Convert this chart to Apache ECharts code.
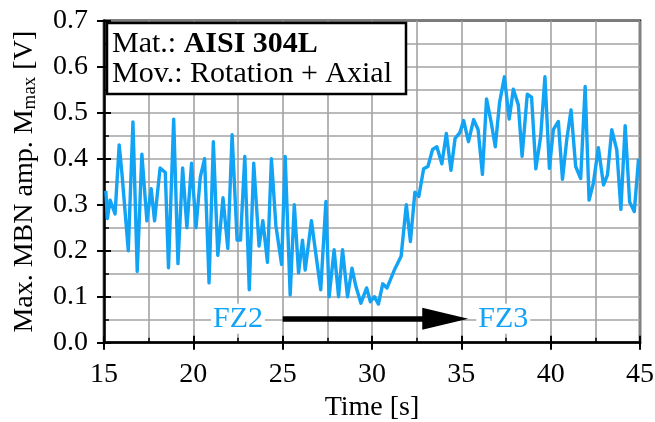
<!DOCTYPE html>
<html>
<head>
<meta charset="utf-8">
<script src="https://cdn.jsdelivr.net/npm/echarts@6/dist/echarts.min.js"></script>
<style>
  html, body { margin: 0; padding: 0; background: #ffffff; }
  #chart { width: 655px; height: 422px; }
</style>
</head>
<body>
<div id="chart"></div>
<script>
// MBN amplitude over time
const times = [
  15.10, 15.19, 15.34, 15.62, 15.85, 16.00, 16.36, 16.62, 16.86, 17.12,
  17.40, 17.64, 17.83, 18.14, 18.43, 18.61, 18.90, 19.14, 19.40, 19.64,
  19.90, 20.15, 20.39, 20.63, 20.88, 21.12, 21.37, 21.66, 21.93, 22.17,
  22.45, 22.64, 22.88, 23.13, 23.38, 23.68, 23.89, 24.15, 24.37, 24.62,
  24.94, 25.14, 25.42, 25.65, 25.89, 26.11, 26.26, 26.61, 26.85, 27.13,
  27.42, 27.60, 27.88, 28.13, 28.35, 28.63, 28.88, 29.10, 29.38, 29.70,
  29.91, 30.13, 30.36, 30.60, 30.84, 31.25, 31.63, 31.92, 32.15, 32.40,
  32.62, 32.89, 33.13, 33.39, 33.63, 33.91, 34.16, 34.42, 34.65, 34.91,
  35.13, 35.40, 35.69, 35.94, 36.18, 36.41, 36.68, 36.90, 37.14, 37.41,
  37.68, 37.91, 38.19, 38.40, 38.69, 38.93, 39.17, 39.44, 39.68, 39.93,
  40.15, 40.43, 40.66, 40.90, 41.14, 41.40, 41.68, 41.93, 42.15, 42.39,
  42.67, 42.96, 43.18, 43.42, 43.70, 43.93, 44.17, 44.42, 44.68, 44.92
];
const amplitudes = [
  0.330, 0.270, 0.310, 0.280, 0.430, 0.370, 0.200, 0.480, 0.155, 0.410,
  0.265, 0.335, 0.265, 0.380, 0.370, 0.163, 0.486, 0.172, 0.380, 0.250,
  0.390, 0.250, 0.360, 0.400, 0.130, 0.437, 0.190, 0.315, 0.205, 0.452,
  0.223, 0.223, 0.405, 0.115, 0.390, 0.210, 0.265, 0.175, 0.400, 0.255,
  0.170, 0.405, 0.104, 0.300, 0.152, 0.223, 0.158, 0.265, 0.195, 0.115,
  0.307, 0.100, 0.202, 0.100, 0.202, 0.100, 0.162, 0.122, 0.086, 0.119,
  0.089, 0.100, 0.084, 0.128, 0.119, 0.158, 0.188, 0.300, 0.220, 0.327,
  0.318, 0.378, 0.383, 0.420, 0.426, 0.389, 0.455, 0.375, 0.444, 0.456,
  0.483, 0.437, 0.485, 0.463, 0.366, 0.530, 0.477, 0.426, 0.522, 0.578,
  0.486, 0.551, 0.517, 0.405, 0.540, 0.534, 0.378, 0.448, 0.578, 0.379,
  0.463, 0.481, 0.355, 0.441, 0.506, 0.383, 0.357, 0.557, 0.310, 0.347,
  0.424, 0.343, 0.365, 0.463, 0.419, 0.290, 0.472, 0.306, 0.285, 0.400
];
const xTicks = [15, 45, 5];
const yTicks = [0, 0.7, 0.1];

// zone annotation: FZ2 -> FZ3
const zoneLabels = ['FZ2', 'FZ3'];
const zoneLabelTimes = [22.5, 37.35];
const arrowSpan = [25.0, 34.1];
const arrowLevel = 0.052;

const serif = '"Liberation Serif", "Times New Roman", serif';
const blue = '#12a3f5';
const gridGray = '#a3a3a3';

const chart = echarts.init(document.getElementById('chart'));

const axisFont = { fontFamily: serif, fontSize: 28, color: '#000' };

function mainAxis(range, extra) {
  return Object.assign({
    type: 'value',
    min: range[0],
    max: range[1],
    interval: range[2],
    axisLine: { show: true, lineStyle: { color: '#000', width: 2.5 } },
    axisTick: { show: true, inside: false, length: 7, lineStyle: { color: '#000', width: 2 } },
    minorTick: { show: false, splitNumber: 2 },
    splitLine: { show: true, lineStyle: { color: gridGray, width: 1.6 } },
    minorSplitLine: { show: true, lineStyle: { color: gridGray, width: 1.6 } }
  }, extra);
}

function tickAxis(range, position) {
  return {
    type: 'value',
    position: position,
    min: range[0],
    max: range[1],
    interval: range[2],
    axisLine: { show: false },
    axisLabel: { show: false },
    splitLine: { show: false },
    axisTick: { show: true, inside: true, length: 7, lineStyle: { color: '#000', width: 2 } },
    minorTick: { show: true, splitNumber: 2, length: 5, lineStyle: { color: '#000', width: 1.5 } }
  };
}

const option = {
  animation: false,
  backgroundColor: '#fff',
  grid: {
    left: 104,
    right: 15,
    top: 20.7,
    bottom: 79.3,
    outerBoundsMode: 'none',
    show: true,
    borderColor: '#000',
    borderWidth: 2.5,
    backgroundColor: 'transparent'
  },
  xAxis: [
    mainAxis(xTicks, {
      position: 'bottom',
      name: 'Time [s]',
      nameLocation: 'middle',
      nameGap: 44,
      nameTextStyle: axisFont,
      axisLabel: Object.assign({ margin: 18 }, axisFont)
    }),
    tickAxis(xTicks, 'bottom')
  ],
  yAxis: [
    mainAxis(yTicks, {
      position: 'left',
      name: 'Max. MBN amp. M{s|max} [V]',
      nameLocation: 'middle',
      nameGap: 64,
      nameRotate: 90,
      nameTextStyle: {
        fontFamily: serif,
        fontSize: 28,
        color: '#000',
        rich: {
          s: { fontFamily: serif, fontSize: 19, color: '#000', padding: [12, 0, 0, 0] }
        }
      },
      axisLabel: Object.assign({ margin: 16, formatter: v => v.toFixed(1) }, axisFont)
    }),
    tickAxis(yTicks, 'left')
  ],
  graphic: [
    {
      type: 'rect',
      shape: { x: 107, y: 23, width: 299, height: 71 },
      style: { fill: '#fff', stroke: '#000', lineWidth: 2.5 },
      z: 100
    },
    {
      type: 'text',
      x: 112,
      y: 44,
      z: 101,
      style: {
        text: 'Mat.: {b|AISI 304L}',
        fontFamily: serif,
        fontSize: 30,
        fill: '#000',
        verticalAlign: 'middle',
        rich: { b: { fontFamily: serif, fontSize: 30, fontWeight: 'bold', fill: '#000' } }
      }
    },
    {
      type: 'text',
      x: 112,
      y: 74,
      z: 101,
      style: {
        text: 'Mov.: Rotation + Axial',
        fontFamily: serif,
        fontSize: 30,
        fill: '#000',
        verticalAlign: 'middle'
      }
    }
  ],
  series: [
    {
      type: 'line',
      data: times.map((t, i) => [t, amplitudes[i]]),
      showSymbol: false,
      symbol: 'none',
      lineStyle: { color: blue, width: 3.4, join: 'round' },
      z: 5,
      markLine: {
        silent: true,
        animation: false,
        symbol: ['none', 'triangle'],
        symbolSize: [22, 46],
        label: { show: false },
        lineStyle: { color: '#000', width: 5.5, type: 'solid' },
        itemStyle: { color: '#000' },
        emphasis: { disabled: true },
        data: [[
          { coord: [arrowSpan[0], arrowLevel] },
          { coord: [arrowSpan[1], arrowLevel] }
        ]]
      },
      markPoint: {
        silent: true,
        animation: false,
        symbol: 'rect',
        symbolSize: 0,
        label: {
          show: true,
          position: 'inside',
          formatter: p => p.name,
          fontFamily: serif,
          fontSize: 30,
          color: blue,
          backgroundColor: '#fff',
          padding: [0, 2]
        },
        data: zoneLabels.map((name, i) => ({ name: name, coord: [zoneLabelTimes[i], arrowLevel] }))
      }
    }
  ]
};

chart.setOption(option);
</script>
</body>
</html>
